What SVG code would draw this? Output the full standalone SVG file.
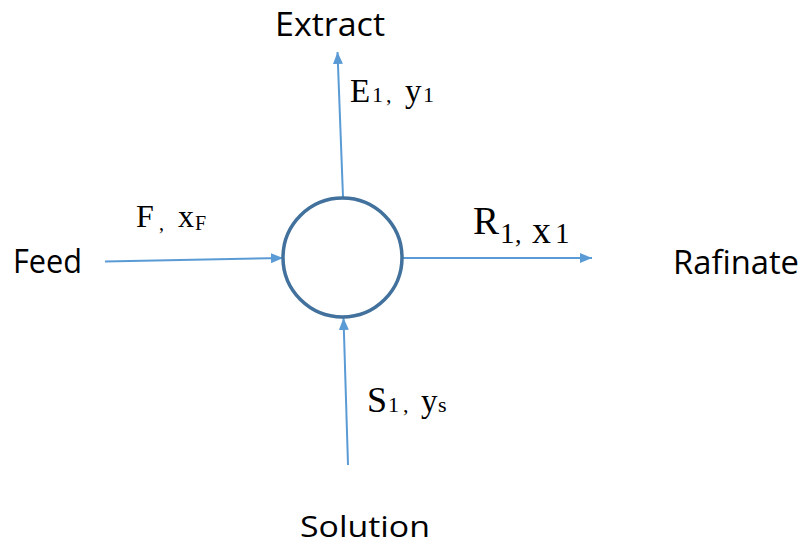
<svg xmlns="http://www.w3.org/2000/svg" width="808" height="545" viewBox="0 0 808 545">
<style>
.lbl{font-family:"Open Sans","Liberation Sans",sans-serif;font-size:32px;fill:#000}
.ser{font-family:"Liberation Serif","Times New Roman",serif;fill:#000}
.conn{stroke:#5b9bd5;stroke-width:2;fill:none}
</style>
<defs>
<marker id="arr" viewBox="0 0 12 10" refX="12" refY="5" markerWidth="12" markerHeight="10" markerUnits="userSpaceOnUse" orient="auto">
<path d="M0,0 L12,5 L0,10 Z" fill="#5b9bd5"/>
</marker>
</defs>
<rect width="808" height="545" fill="#fff"/>
<g id="connectors">
<line class="conn" x1="343" y1="197" x2="337.5" y2="52" marker-end="url(#arr)"/>
<line class="conn" x1="105" y1="261.5" x2="283" y2="258" marker-end="url(#arr)"/>
<line class="conn" x1="403" y1="258" x2="592" y2="258" marker-end="url(#arr)"/>
<line class="conn" x1="348" y1="465" x2="343.5" y2="318" marker-end="url(#arr)"/>
</g>
<g id="mixer">
<circle cx="342.5" cy="257.5" r="59.5" fill="none" stroke="#41719c" stroke-width="3.5"/>
</g>
<g id="extract">
<text class="lbl" x="275" y="36" textLength="110" lengthAdjust="spacingAndGlyphs">Extract</text>
<text class="ser"><tspan x="350" y="102" font-size="33">E</tspan><tspan x="372" y="102" font-size="22">1</tspan><tspan x="386" y="102" font-size="22">,</tspan><tspan x="405" y="102" font-size="33">y</tspan><tspan x="423" y="102" font-size="22">1</tspan></text>
</g>
<g id="feed">
<text class="lbl" x="13" y="273" textLength="69" lengthAdjust="spacingAndGlyphs">Feed</text>
<text class="ser"><tspan x="136" y="227" font-size="32">F</tspan><tspan x="159" y="230" font-size="20">,</tspan><tspan x="178" y="227" font-size="32">x</tspan><tspan x="195" y="230" font-size="20">F</tspan></text>
</g>
<g id="rafinate">
<text class="lbl" x="673" y="274" textLength="126" lengthAdjust="spacingAndGlyphs">Rafinate</text>
<text class="ser"><tspan x="473" y="234" font-size="39">R</tspan><tspan x="500" y="243" font-size="29">1</tspan><tspan x="515" y="243" font-size="26">,</tspan><tspan x="532" y="243" font-size="38">x</tspan><tspan x="555" y="243" font-size="29">1</tspan></text>
</g>
<g id="solution">
<text class="lbl" x="300" y="537" font-size="30" style="font-size:30px" textLength="130" lengthAdjust="spacingAndGlyphs">Solution</text>
<text class="ser"><tspan x="367" y="412" font-size="36">S</tspan><tspan x="388" y="412" font-size="22">1</tspan><tspan x="403" y="412" font-size="22">,</tspan><tspan x="421" y="412" font-size="33">y</tspan><tspan x="438" y="412" font-size="22">s</tspan></text>
</g>
</svg>
